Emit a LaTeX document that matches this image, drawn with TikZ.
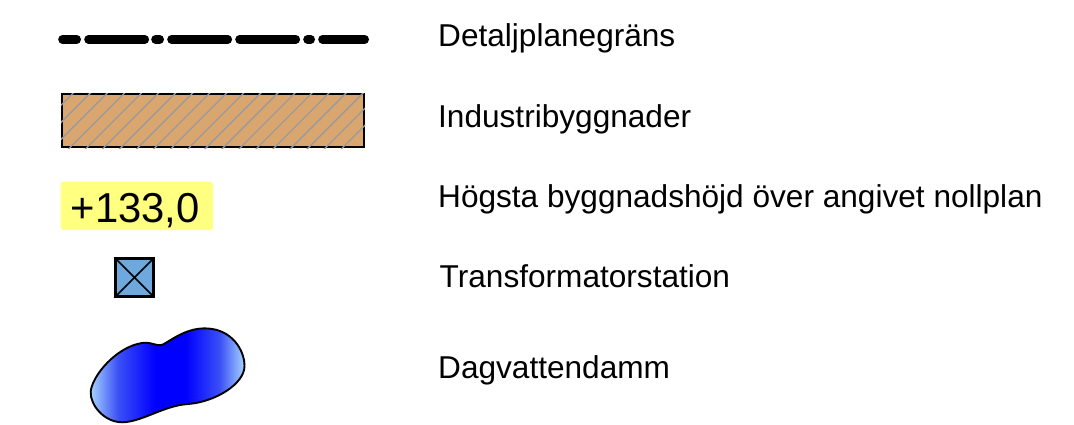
\documentclass[tikz,border=0pt]{standalone}
\usepackage{fontspec}
\setmainfont{Liberation Sans}
\definecolor{pondlight}{HTML}{A8D4FF}
\definecolor{pondmid}{HTML}{3B50F5}
\definecolor{hatchfill}{HTML}{DAA670}
\definecolor{hatchline}{HTML}{9A9A9A}
\definecolor{labelyellow}{HTML}{FFFF80}
\definecolor{stationblue}{HTML}{6FA8DC}
\pgfdeclarehorizontalshading{pondshade}{100bp}{
  color(0bp)=(pondlight); color(25bp)=(pondlight); color(34bp)=(pondmid); color(46bp)=(blue); color(56bp)=(blue); color(67bp)=(pondmid); color(75bp)=(pondlight); color(100bp)=(pondlight)}
\tikzset{
  legendtext/.style={anchor=base west,inner sep=0pt,font=\fontsize{31.6}{38}\selectfont},
  boundary/.style={line width=8.6pt,line cap=round},
}
\begin{document}
\begin{tikzpicture}[x=1pt,y=-1pt]
\useasboundingbox (0,0) rectangle (1074,424);
% boundary line
\foreach \a/\b in {62.5/76.7,88.5/144.8,155.5/159.7,171.5/227.8,239.5/295.8,307.5/310.7,322.5/364.7}
  \draw[boundary] (\a,39.4) -- (\b,39.4);
% industrial
\fill[hatchfill] (62,94) rectangle (364,147);
\draw[black,line width=1.3pt] (62,94) rectangle (364,147);
\begin{scope}
\clip (61,93) rectangle (365,148);
\foreach \k in {-1,...,19}
  \draw[hatchline,line width=1.3pt] ({72.3+17.05*\k},94) ++(-70,70) -- ++(90,-90);
\end{scope}
% height label
\node[fill=labelyellow,rounded corners=3pt,minimum width=152.5pt,minimum height=48.5pt,inner sep=0pt] (height) at (136.8,205.8) {};
\node[anchor=base west,inner sep=0pt,font=\fontsize{41.8}{48}\selectfont] (heighttext) at (70.5,222.5) {+133,0};
% station
\node[draw=black,fill=stationblue,line width=2.8pt,minimum size=37.5pt,inner sep=0pt] (station) at (134.4,277.5) {};
\draw[line width=1.6pt] (station.north west) -- (station.south east);
\draw[line width=1.6pt] (station.north east) -- (station.south west);
% pond
\path[draw=black,line width=1.9pt,shading=pondshade]
 (90.7,391.7) .. controls (92,376) and (116,347) .. (142,343)
 .. controls (152,341.5) and (156,347) .. (163,344.5)
 .. controls (173,339) and (188,327) .. (208,328.5)
 .. controls (232,330) and (244.5,350) .. (244.5,366)
 .. controls (244.5,384) and (215,402) .. (188,404)
 .. controls (164,405.5) and (142,422) .. (122,422.3)
 .. controls (104,422) and (90,405) .. (90.7,391.7) -- cycle;
% legend
\node[legendtext] (t1) at (438,46.6) {Detaljplanegräns};
\node[legendtext] (t2) at (438,127) {Industribyggnader};
\node[legendtext] (t3) at (438,207.6) {Högsta byggnadshöjd över angivet nollplan};
\node[legendtext] (t4) at (439.5,287.6) {Transformatorstation};
\node[legendtext] (t5) at (438,378) {Dagvattendamm};
\end{tikzpicture}
\end{document}
